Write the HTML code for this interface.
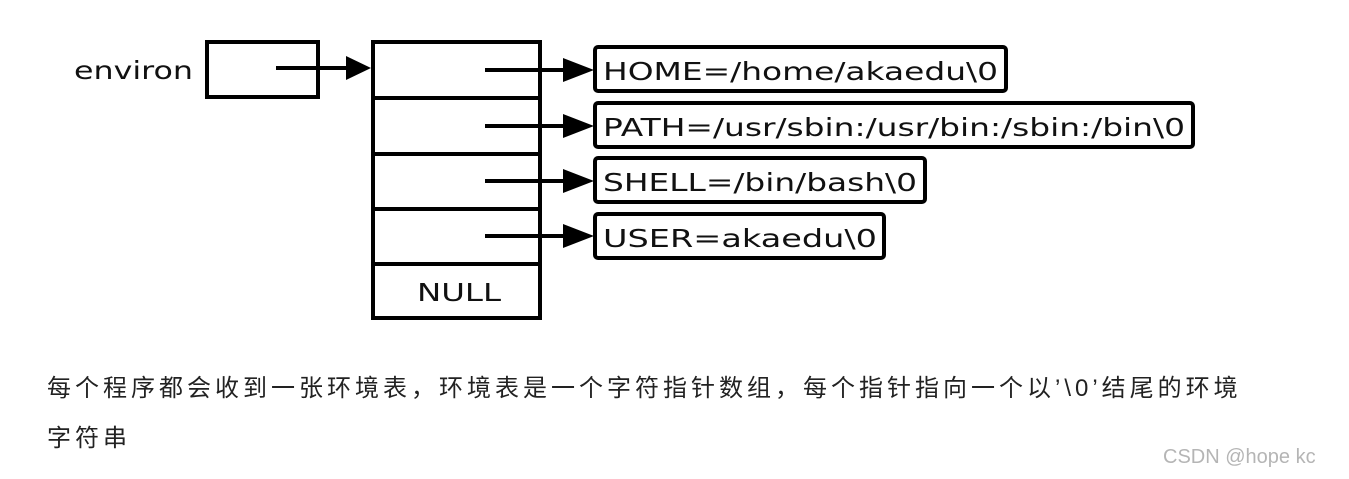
<!DOCTYPE html>
<html><head><meta charset="utf-8"><style>
html,body{margin:0;padding:0;background:#fff;width:1349px;height:479px;overflow:hidden;position:relative}
.cap{position:absolute;left:47px;font-family:"Liberation Sans","Noto Sans CJK SC",sans-serif;font-size:24px;letter-spacing:4px;color:#222;white-space:nowrap}
</style></head><body>
<svg width="1349" height="479" style="position:absolute;left:0;top:0" font-family="DejaVu Sans, Liberation Sans, sans-serif">
<g fill="none" stroke="#000" stroke-width="4">
<rect x="207" y="42" width="111" height="55"/>
<rect x="373" y="42" width="167" height="276"/>
<line x1="373" y1="98" x2="540" y2="98"/>
<line x1="373" y1="154" x2="540" y2="154"/>
<line x1="373" y1="209" x2="540" y2="209"/>
<line x1="373" y1="264" x2="540" y2="264"/>
<line x1="276" y1="68" x2="350" y2="68"/>
<line x1="485" y1="70" x2="566" y2="70"/>
<line x1="485" y1="126" x2="566" y2="126"/>
<line x1="485" y1="181" x2="566" y2="181"/>
<line x1="485" y1="236" x2="566" y2="236"/>
<rect x="595" y="47" width="411" height="44" rx="3"/>
<rect x="595" y="103" width="598" height="44" rx="3"/>
<rect x="595" y="158" width="330" height="44" rx="3"/>
<rect x="595" y="214" width="289" height="44" rx="3"/>
</g>
<g fill="#000">
<polygon points="346,56 371,68 346,80"/>
<polygon points="563,58 594,70 563,82"/>
<polygon points="563,114 594,126 563,138"/>
<polygon points="563,169 594,181 563,193"/>
<polygon points="563,224 594,236 563,248"/>
</g>
<g font-size="25" fill="#111">
<text x="74" y="79" textLength="119" lengthAdjust="spacingAndGlyphs">environ</text>
<text x="417" y="301" textLength="84" lengthAdjust="spacingAndGlyphs">NULL</text>
<text x="603" y="80" textLength="395" lengthAdjust="spacingAndGlyphs">HOME=/home/akaedu\0</text>
<text x="603" y="136" textLength="582" lengthAdjust="spacingAndGlyphs">PATH=/usr/sbin:/usr/bin:/sbin:/bin\0</text>
<text x="603" y="191" textLength="314" lengthAdjust="spacingAndGlyphs">SHELL=/bin/bash\0</text>
<text x="603" y="247" textLength="274" lengthAdjust="spacingAndGlyphs">USER=akaedu\0</text>
</g>
</svg>
<div class="cap" style="top:368px">每个程序都会收到一张环境表，环境表是一个字符指针数组，每个指针指向一个以’\0’结尾的环境</div>
<div class="cap" style="top:418px">字符串</div>
<div style="position:absolute;left:1163px;top:446px;font-family:'Liberation Sans',sans-serif;font-size:20px;color:#b5b5b5">CSDN @hope kc</div>
</body></html>
